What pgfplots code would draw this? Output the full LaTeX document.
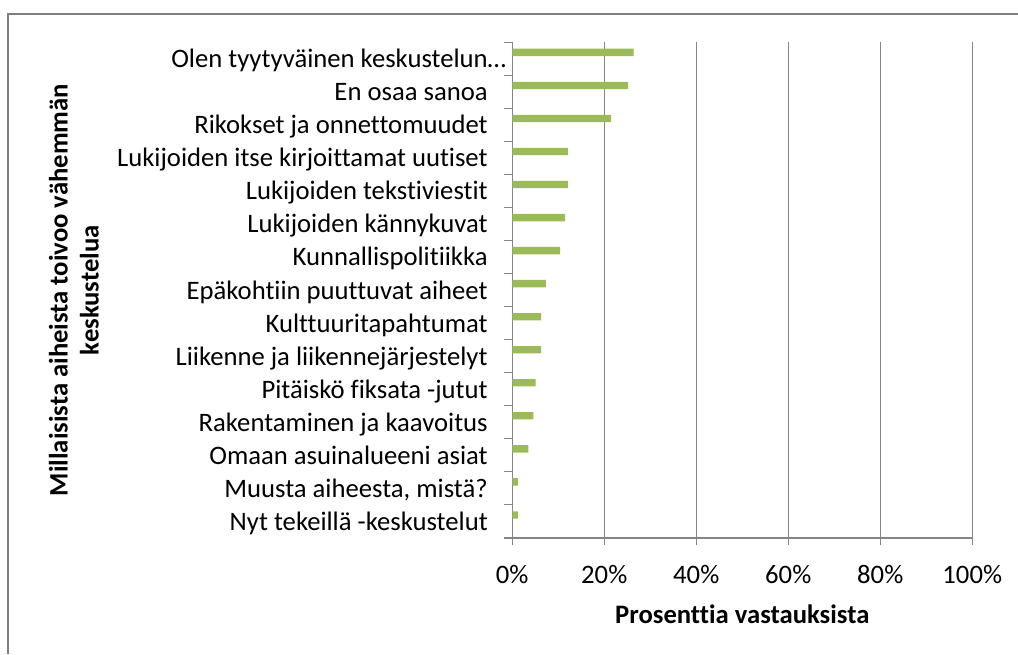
\documentclass[border=0pt]{standalone}
\usepackage{pgfplots}
\pgfplotsset{compat=1.18}
\usepackage{fontspec}
\setmainfont{Carlito}[Ligatures=NoCommon]
\definecolor{bargreen}{HTML}{9BBB59}
\definecolor{axisgray}{HTML}{868686}
\definecolor{framegray}{HTML}{7F7F7F}

\begin{document}
\begin{tikzpicture}
\useasboundingbox (0,0) rectangle (763.5pt,490.5pt);
\draw[framegray, line width=1.5pt] (6pt,0) -- (6pt,480pt) -- (763.5pt,480pt);
\begin{axis}[
  at={(384.2pt,87pt)}, anchor=south west,
  scale only axis, width=345pt, height=371.7pt,
  xbar, bar width=5.5pt, bar shift=4.9pt,
  xmin=0, xmax=100, ymin=-0.5, ymax=14.5,
  axis lines*=left,
  axis line style={axisgray, line width=0.8pt},
  tick align=outside, major tick length=5.25pt, minor tick length=6pt,
  xtick={0,20,40,60,80,100},
  xticklabels={0\%,20\%,40\%,60\%,80\%,100\%},
  ytick={0,...,14},
  minor ytick={-0.5,0.5,...,14.5},
  yticklabels={Nyt tekeillä -keskustelut, {Muusta aiheesta, mistä?}, Omaan asuinalueeni asiat,
    Rakentaminen ja kaavoitus, Pitäiskö fiksata -jutut, Liikenne ja liikennejärjestelyt,
    Kulttuuritapahtumat, Epäkohtiin puuttuvat aiheet, Kunnallispolitiikka,
    Lukijoiden kännykuvat, Lukijoiden tekstiviestit, Lukijoiden itse kirjoittamat uutiset,
    Rikokset ja onnettomuudet, En osaa sanoa, Olen tyytyväinen keskustelun\rlap{…}},
  major x tick style={axisgray, line width=0.8pt},
  major y tick style={draw=none},
  minor y tick style={axisgray, line width=0.8pt},
  xmajorgrids, major grid style={axisgray, line width=0.8pt},
  tick label style={font=\fontsize{20}{24}\selectfont, text=black},
  yticklabel style={anchor=east, inner sep=0pt, xshift=-13pt, yshift=-1.8pt},
  xticklabel style={anchor=base, inner sep=0pt, yshift=-28.5pt},
  typeset ticklabels with strut,
  xlabel={Prosenttia vastauksista},
  xlabel style={font=\bfseries\fontsize{20}{24}\selectfont, at={(axis description cs:0.5,0)}, anchor=base, yshift=-64pt},
  ylabel={Millaisista aiheista toivoo vähemmän\\keskustelua},
  ylabel style={font=\bfseries\fontsize{20}{23.25}\selectfont, align=center, at={(axis description cs:-0.953,0.5)}, anchor=center},
]
\addplot[fill=bargreen, draw=none] coordinates {
  (1.2,0) (1.2,1) (3.5,2) (4.6,3) (5.1,4) (6.3,5) (6.3,6) (7.3,7)
  (10.4,8) (11.5,9) (12.1,10) (12.1,11) (21.5,12) (25.2,13) (26.4,14)
};
\end{axis}
\end{tikzpicture}
\end{document}
